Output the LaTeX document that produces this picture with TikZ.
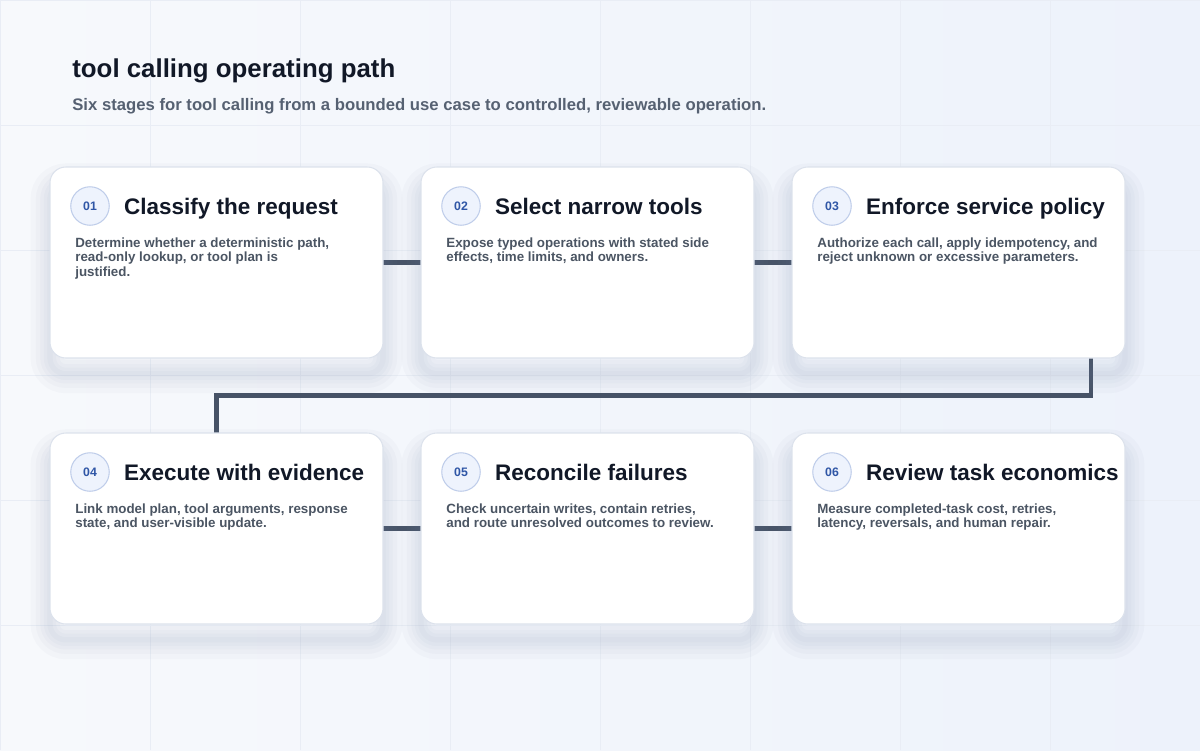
\documentclass[tikz,border=0pt]{standalone}
\usepackage{fontspec}
\setmainfont{Liberation Sans}
\usepackage{xcolor}
\usetikzlibrary{positioning, backgrounds}

\definecolor{ink}{HTML}{111827}
\definecolor{subink}{HTML}{566172}
\definecolor{bodyink}{HTML}{4B5563}
\definecolor{badgeink}{HTML}{2F56A6}
\definecolor{badgefill}{HTML}{EEF3FD}
\definecolor{badgeline}{HTML}{BFCDEA}
\definecolor{cardline}{HTML}{DCE2EC}
\definecolor{shadowcol}{HTML}{7A88A8}
\definecolor{linkcol}{HTML}{465266}
\definecolor{bgleft}{HTML}{F7F9FC}
\definecolor{bgright}{HTML}{EDF2FB}
\definecolor{gridcol}{HTML}{E9EDF5}

\begin{document}
\begin{tikzpicture}[
    node distance=0.76cm and 0.76cm,
    softshadow/.style={
        preaction={draw=shadowcol, draw opacity=0.04, line width=#1,
            transform canvas={yshift=-9pt}}
    },
    card/.style={
        rectangle, rounded corners=9pt, draw=cardline, line width=0.6pt,
        fill=white, minimum width=6.66cm, minimum height=3.82cm, outer sep=0pt,
        softshadow=3pt, softshadow=7pt, softshadow=11pt, softshadow=16pt,
        softshadow=22pt
    },
    badge/.style={
        circle, draw=badgeline, fill=badgefill, line width=0.6pt,
        minimum size=0.77cm, inner sep=0pt, text=badgeink,
        text height=5pt, text depth=0pt,
        font=\fontsize{7}{8}\selectfont\bfseries
    },
    stagetitle/.style={
        inner sep=0pt, text=ink, text height=9.1pt, text depth=0pt,
        font=\fontsize{12.8}{15}\selectfont\bfseries
    },
    stagetext/.style={
        inner sep=0pt, align=left, text=bodyink, anchor=north west,
        font=\fontsize{7.6}{8.5}\selectfont\bfseries
    },
    link/.style={line width=2.3pt, draw=linkcol},
    gridline/.style={line width=0.5pt, draw=gridcol},
]

\useasboundingbox (0,0) rectangle (24,-15);

% Heading
\node[inner sep=0pt, anchor=base west, text=ink,
      font=\fontsize{14.7}{17}\selectfont\bfseries] (title) at (1.44,-1.55)
      {tool calling operating path};
\node[inner sep=0pt, anchor=base west, text=subink,
      font=\fontsize{9.5}{11}\selectfont\bfseries] (subtitle) at (1.44,-2.2)
      {Six stages for tool calling from a bounded use case to controlled, reviewable operation.};

% Stage 1: Classify
\node[card, anchor=north west] (c1) at (1.0,-3.34) {};
\node[badge] (b1) at ([shift={(0.8,-0.78)}]c1.north west) {01};
\node[stagetitle, right=0.28cm of b1] (t1) {Classify the request};
\node[stagetext] (d1) at ([shift={(0.5,-1.4)}]c1.north west)
    {Determine whether a deterministic path,\\read-only lookup, or tool plan is\\justified.};

% Stage 2: Select
\node[card, right=of c1] (c2) {};
\node[badge] (b2) at ([shift={(0.8,-0.78)}]c2.north west) {02};
\node[stagetitle, right=0.28cm of b2] (t2) {Select narrow tools};
\node[stagetext] (d2) at ([shift={(0.5,-1.4)}]c2.north west)
    {Expose typed operations with stated side\\effects, time limits, and owners.};

% Stage 3: Enforce
\node[card, right=of c2] (c3) {};
\node[badge] (b3) at ([shift={(0.8,-0.78)}]c3.north west) {03};
\node[stagetitle, right=0.28cm of b3] (t3) {Enforce service policy};
\node[stagetext] (d3) at ([shift={(0.5,-1.4)}]c3.north west)
    {Authorize each call, apply idempotency, and\\reject unknown or excessive parameters.};

% Stage 4: Execute
\node[card, below=1.5cm of c1] (c4) {};
\node[badge] (b4) at ([shift={(0.8,-0.78)}]c4.north west) {04};
\node[stagetitle, right=0.28cm of b4] (t4) {Execute with evidence};
\node[stagetext] (d4) at ([shift={(0.5,-1.4)}]c4.north west)
    {Link model plan, tool arguments, response\\state, and user-visible update.};

% Stage 5: Reconcile
\node[card, right=of c4] (c5) {};
\node[badge] (b5) at ([shift={(0.8,-0.78)}]c5.north west) {05};
\node[stagetitle, right=0.28cm of b5] (t5) {Reconcile failures};
\node[stagetext] (d5) at ([shift={(0.5,-1.4)}]c5.north west)
    {Check uncertain writes, contain retries,\\and route unresolved outcomes to review.};

% Stage 6: Review
\node[card, right=of c5] (c6) {};
\node[badge] (b6) at ([shift={(0.8,-0.78)}]c6.north west) {06};
\node[stagetitle, right=0.28cm of b6] (t6) {Review task economics};
\node[stagetext] (d6) at ([shift={(0.5,-1.4)}]c6.north west)
    {Measure completed-task cost, retries,\\latency, reversals, and human repair.};

% Page background and connectors behind the cards
\begin{scope}[on background layer]
\shade[left color=bgleft, right color=bgright] (0,0) rectangle (24,-15);
\draw[gridline] (0,-15) grid[xstep=3cm, ystep=2.5cm] (24,0);
\draw[link] (c1) -- (c2);
\draw[link] (c2) -- (c3);
\draw[link] ([xshift=-0.68cm]c3.south east) -- ++(0,-0.75) -| (c4.north);
\draw[link] (c4) -- (c5);
\draw[link] (c5) -- (c6);
\end{scope}

\end{tikzpicture}
\end{document}
